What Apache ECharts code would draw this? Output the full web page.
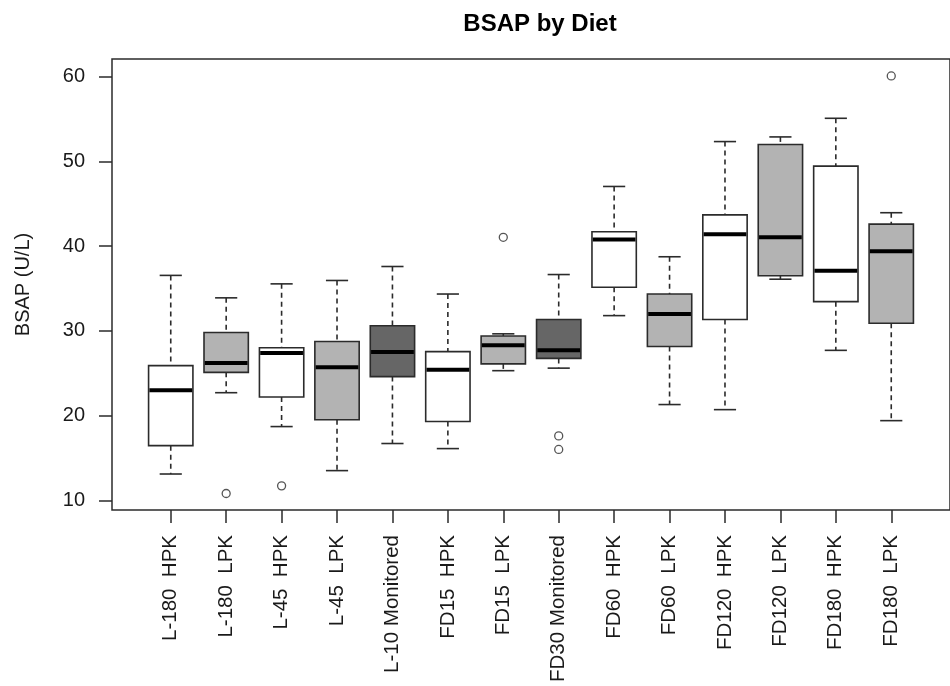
<!DOCTYPE html>
<html>
<head>
<meta charset="utf-8">
<script src="https://cdn.jsdelivr.net/npm/echarts@6/dist/echarts.min.js"></script>
<style>html,body{margin:0;padding:0;background:#fff}#c{width:950px;height:686px}</style>
</head>
<body>
<div id="c"></div>
<script>
const categories = ['L-180  HPK', 'L-180  LPK', 'L-45  HPK', 'L-45  LPK', 'L-10 Monitored', 'FD15  HPK', 'FD15  LPK', 'FD30 Monitored', 'FD60  HPK', 'FD60  LPK', 'FD120  HPK', 'FD120  LPK', 'FD180  HPK', 'FD180  LPK'];
const lowerWhisker = [13.1, 22.7, 18.7, 13.5, 16.7, 16.1, 25.3, 25.6, 31.8, 21.3, 20.7, 36.1, 27.7, 19.4];
const q1 = [16.45, 25.1, 22.2, 19.5, 24.6, 19.3, 26.1, 26.75, 35.15, 28.15, 31.35, 36.5, 33.45, 30.9];
const median = [23.0, 26.2, 27.4, 25.7, 27.5, 25.4, 28.3, 27.7, 40.8, 32.0, 41.4, 41.05, 37.1, 39.4];
const q3 = [25.9, 29.8, 28.0, 28.75, 30.6, 27.55, 29.4, 31.35, 41.7, 34.35, 43.7, 52.0, 49.45, 42.6];
const upperWhisker = [36.55, 33.9, 35.55, 35.95, 37.6, 34.35, 29.65, 36.65, 47.05, 38.75, 52.35, 52.9, 55.1, 43.95];
const outlierGroup = [1, 2, 6, 7, 7, 13];
const outlierValue = [10.8, 11.7, 41.05, 17.6, 16.0, 60.1];
const yTicks = [10, 20, 30, 40, 50, 60];

const FONT = "'Liberation Sans', Arial, sans-serif";
function fillFor(name) {
  if (name.indexOf('Monitored') >= 0) return '#666666';
  if (name.indexOf('LPK') >= 0) return '#b3b3b3';
  return '#ffffff';
}

const boxData = categories.map((c, i) => [i, lowerWhisker[i], q1[i], median[i], q3[i], upperWhisker[i]]);
const outlierData = outlierGroup.map((g, i) => [g, outlierValue[i]]);

function renderItem(params, api) {
  const x = api.value(0);
  const pLo = api.coord([x, api.value(1)]);
  const pQ1 = api.coord([x, api.value(2)]);
  const pMed = api.coord([x, api.value(3)]);
  const pQ3 = api.coord([x, api.value(4)]);
  const pHi = api.coord([x, api.value(5)]);
  const w = api.size([0.8, 0])[0];
  const cx = pMed[0];
  const stroke = '#2b2b2b';
  const lw = 1.6;
  const dash = [5, 4];
  const fill = fillFor(categories[x]);
  return {
    type: 'group',
    children: [
      {type: 'line', shape: {x1: cx, y1: pHi[1], x2: cx, y2: pQ3[1]}, style: {stroke: stroke, lineWidth: lw, lineDash: dash}},
      {type: 'line', shape: {x1: cx, y1: pQ1[1], x2: cx, y2: pLo[1]}, style: {stroke: stroke, lineWidth: lw, lineDash: dash}},
      {type: 'line', shape: {x1: cx - w / 4, y1: pHi[1], x2: cx + w / 4, y2: pHi[1]}, style: {stroke: stroke, lineWidth: lw}},
      {type: 'line', shape: {x1: cx - w / 4, y1: pLo[1], x2: cx + w / 4, y2: pLo[1]}, style: {stroke: stroke, lineWidth: lw}},
      {type: 'rect', shape: {x: cx - w / 2, y: pQ3[1], width: w, height: pQ1[1] - pQ3[1]}, style: {fill: fill, stroke: stroke, lineWidth: lw}},
      {type: 'line', shape: {x1: cx - w / 2 + 0.8, y1: pMed[1], x2: cx + w / 2 - 0.8, y2: pMed[1]}, style: {stroke: '#000', lineWidth: 4}}
    ]
  };
}

const chart = echarts.init(document.getElementById('c'), null, {renderer: 'canvas'});
chart.setOption({
  animation: false,
  backgroundColor: '#fff',
  title: {
    text: 'BSAP by Diet',
    left: 535,
    textAlign: 'center',
    top: 7,
    textStyle: {fontFamily: FONT, fontSize: 24, fontWeight: 'bold', color: '#000'}
  },
  grid: {
    left: 112, top: 59, width: 846, height: 451,
    show: true, borderColor: '#2b2b2b', borderWidth: 1.5, backgroundColor: 'transparent'
  },
  xAxis: {
    type: 'value',
    min: -1.06, max: 14.06,
    splitLine: {show: false},
    axisLine: {show: false, onZero: false},
    axisTick: {show: true, length: 13, inside: false, customValues: categories.map((c, i) => i), lineStyle: {color: '#2b2b2b', width: 1.5}},
    axisLabel: {
      show: true, customValues: categories.map((c, i) => i),
      rotate: 90, margin: 25,
      fontFamily: FONT, fontSize: 20.5, color: '#1a1a1a',
      formatter: v => categories[Math.round(v)] || ''
    }
  },
  yAxis: {
    type: 'value',
    min: 8.85, max: 62.1,
    name: 'BSAP (U/L)',
    nameLocation: 'middle',
    nameGap: 79,
    nameTextStyle: {fontFamily: FONT, fontSize: 20, color: '#1a1a1a'},
    splitLine: {show: false},
    axisLine: {show: false, onZero: false},
    axisTick: {show: true, length: 13, customValues: yTicks, lineStyle: {color: '#2b2b2b', width: 1.5}},
    axisLabel: {show: true, customValues: yTicks, margin: 27, fontFamily: FONT, fontSize: 20, color: '#1a1a1a'}
  },
  series: [
    {
      type: 'custom',
      renderItem: renderItem,
      encode: {x: 0, y: [1, 2, 3, 4, 5]},
      data: boxData
    },
    {
      type: 'scatter',
      symbol: 'circle',
      symbolSize: 8,
      itemStyle: {color: '#fff', borderColor: '#2b2b2b', borderWidth: 1.3},
      data: outlierData
    }
  ]
});
</script>
</body>
</html>
